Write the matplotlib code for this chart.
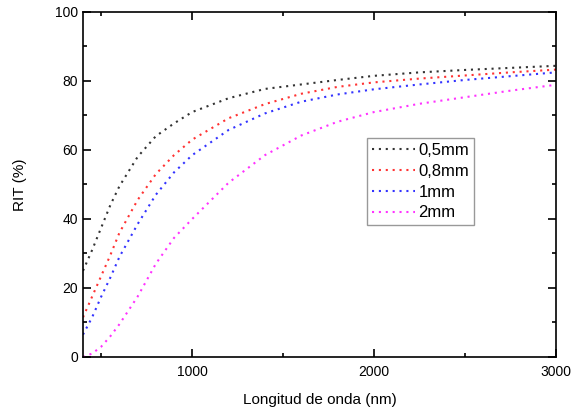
import matplotlib
matplotlib.use('Agg')
import matplotlib.pyplot as plt
from matplotlib.ticker import MultipleLocator

plt.rcParams['font.family'] = ['Liberation Sans', 'DejaVu Sans']

# longitud de onda (nm) and RIT (%) per thickness
wavelength = [400, 450, 500, 550, 600, 700, 800, 900, 1000, 1200, 1400, 1600, 1800, 2000, 2250, 2500, 2750, 3000]
rit_05 = [25, 31, 37.5, 44, 49.5, 58, 64, 67.7, 71, 75, 77.7, 79, 80.3, 81.5, 82.5, 83.2, 83.8, 84.4]
rit_08 = [11.5, 17.5, 23.5, 29.5, 36, 45.5, 53, 58.5, 63, 69.2, 73.3, 76.3, 78.3, 79.6, 80.7, 81.6, 82.5, 83.3]
rit_1 = [6.5, 11.5, 17.5, 23, 29, 38.5, 47, 53.5, 58.5, 65.8, 70.6, 74, 76.1, 77.6, 79, 80.3, 81.4, 82.5]
rit_2 = [0, 1, 3, 6, 9.5, 17.5, 27, 34.5, 40, 50.5, 58.5, 64.2, 68.2, 71, 73.4, 75.3, 77.2, 78.9]

labels = ['0,5mm', '0,8mm', '1mm', '2mm']
colors = ['#333333', '#ff3333', '#3333ff', '#ff33ff']

fig = plt.figure(figsize=(5.71, 4.12), dpi=100)
ax = fig.add_axes([0.1454, 0.1335, 0.8283, 0.8374])

for y, lab, c in zip([rit_05, rit_08, rit_1, rit_2], labels, colors):
    ax.plot(wavelength, y, color=c, lw=1.5, linestyle=(0, (1, 2.3)), label=lab)

ax.set_xlim(400, 3000)
ax.set_ylim(0, 100)
ax.xaxis.set_major_locator(MultipleLocator(1000))
ax.xaxis.set_minor_locator(MultipleLocator(500))
ax.yaxis.set_major_locator(MultipleLocator(20))
ax.yaxis.set_minor_locator(MultipleLocator(10))
ax.tick_params(which='both', direction='in', top=True, right=True, labelsize=10, width=1.2)
ax.tick_params(which='major', length=6)
ax.tick_params(which='minor', length=3)
ax.tick_params(axis='x', which='major', pad=6)
for s in ax.spines.values():
    s.set_linewidth(1.2)

ax.set_xlabel('Longitud de onda (nm)', fontsize=11, labelpad=10)
ax.set_ylabel('RIT (%)', fontsize=11, labelpad=20)

leg = ax.legend(loc='upper left', bbox_to_anchor=(0.600, 0.635), fontsize=12,
                fancybox=False, framealpha=1, edgecolor='#999999', handlelength=2.6,
                handletextpad=0.2, borderpad=0.3, labelspacing=0.35, borderaxespad=0)
leg.get_frame().set_linewidth(1.0)

fig.savefig('out.png', dpi=100)
